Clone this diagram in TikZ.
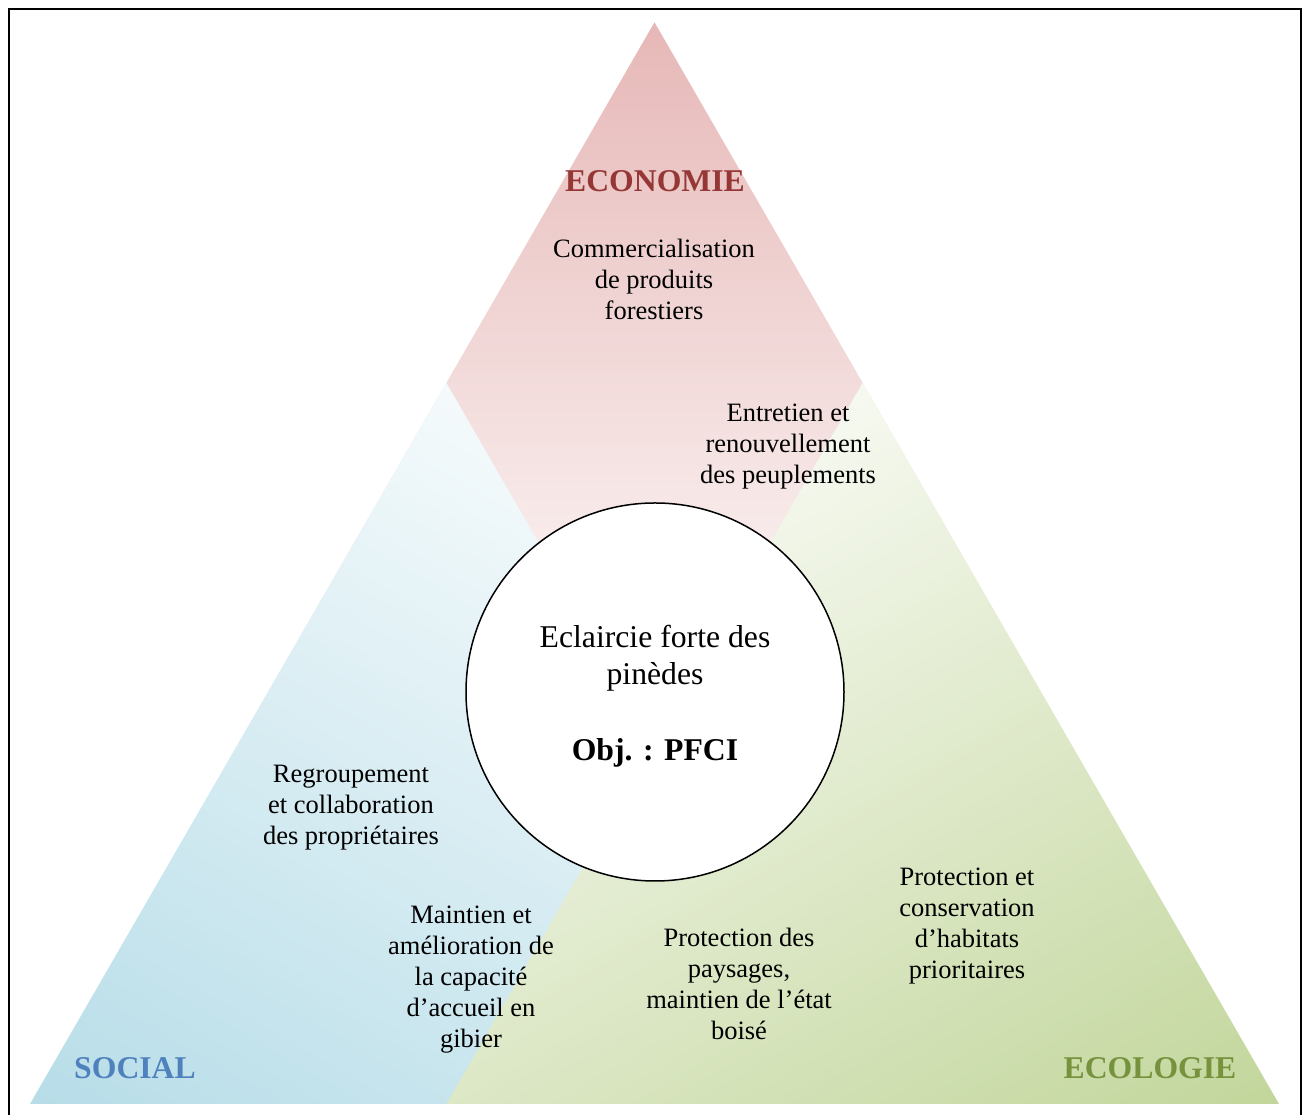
\documentclass[tikz,border=0pt]{standalone}
\usepackage{fontspec}
\setmainfont{Liberation Serif}
\usetikzlibrary{calc}
\definecolor{redT}{HTML}{E6B8B7}
\definecolor{blueT}{HTML}{B7DDE8}
\definecolor{greenT}{HTML}{C2D69B}
\definecolor{ecoC}{HTML}{953735}
\definecolor{socC}{HTML}{4F81BD}
\definecolor{ecolC}{HTML}{76923C}
\begin{document}
\begin{tikzpicture}[x=1pt,y=1pt,
  txt/.style={align=center, font=\fontsize{26.5}{31}\selectfont, inner sep=0pt},
  lbl/.style={font=\fontsize{31.7}{37}\selectfont\bfseries, inner sep=0pt},
  centre/.style={draw, circle, line width=1.5pt, fill=white, minimum size=378pt, inner sep=0pt},
  centretxt/.style={align=center, inner sep=0pt, font=\fontsize{31.7}{37}\selectfont}]
\useasboundingbox (0,0) rectangle (1302,1115);
\coordinate (A) at (654.5,1092.7);
\coordinate (BL) at (30,11);
\coordinate (BR) at (1279,11);
\coordinate (P1) at (446.33,732.13);
\coordinate (P2) at (862.67,732.13);
\coordinate (Q1) at (446.33,11);
\coordinate (Q2) at (862.67,11);
\coordinate (R1) at (238.17,371.57);
\coordinate (R2) at (1070.83,371.57);
% economy triangle
\shade[top color=redT, bottom color=white] (A)--(R1)--(R2)--cycle;
% social triangle
\begin{scope}
 \clip (P1)--(BL)--(Q2)--cycle;
 \begin{scope}[transform canvas={rotate around={-30:(BL)}}]
  \shade[bottom color=blueT, top color=blueT!14!white] ($(BL)+(-1000,0)$) rectangle ($(BL)+(1000,832.7)$);
 \end{scope}
\end{scope}
% ecology triangle
\begin{scope}
 \clip (P2)--(Q1)--(BR)--cycle;
 \begin{scope}[transform canvas={rotate around={30:(BR)}}]
  \shade[bottom color=greenT, top color=greenT!14!white] ($(BR)+(-1000,0)$) rectangle ($(BR)+(1000,832.7)$);
 \end{scope}
\end{scope}
% border
\coordinate (F1) at (9,0);
\coordinate (F2) at (9,1106);
\coordinate (F3) at (1300.5,1106);
\coordinate (F4) at (1300.5,0);
\draw[line width=2pt] (F1) -- (F2) -- (F3) -- (F4);
% centre
\node[centre] (C) at (655,423) {};
\node[centretxt] (Ct) at (655,419) {Eclaircie forte des\\pinèdes\\[39pt]\textbf{Obj. : PFCI}};
% labels
\node[lbl, text=ecoC] (eco) at (655,934) {ECONOMIE};
\node[lbl, text=socC] (soc) at (135,47) {SOCIAL};
\node[lbl, text=ecolC] (ecol) at (1150,47) {ECOLOGIE};
% texts
\node[txt] (t1) at (654,836) {Commercialisation\\de produits\\forestiers};
\node[txt] (t2) at (788,668) {Entretien et\\renouvellement\\des peuplements};
\node[txt] (t3) at (351,307) {Regroupement\\et collaboration\\des propriétaires};
\node[txt] (t4) at (471,135) {Maintien et\\amélioration de\\la capacité\\d’accueil en\\gibier};
\node[txt] (t5) at (739,131) {Protection des\\paysages,\\maintien de l’état\\boisé};
\node[txt] (t6) at (967,189) {Protection et\\conservation\\d’habitats\\prioritaires};
\end{tikzpicture}
\end{document}
